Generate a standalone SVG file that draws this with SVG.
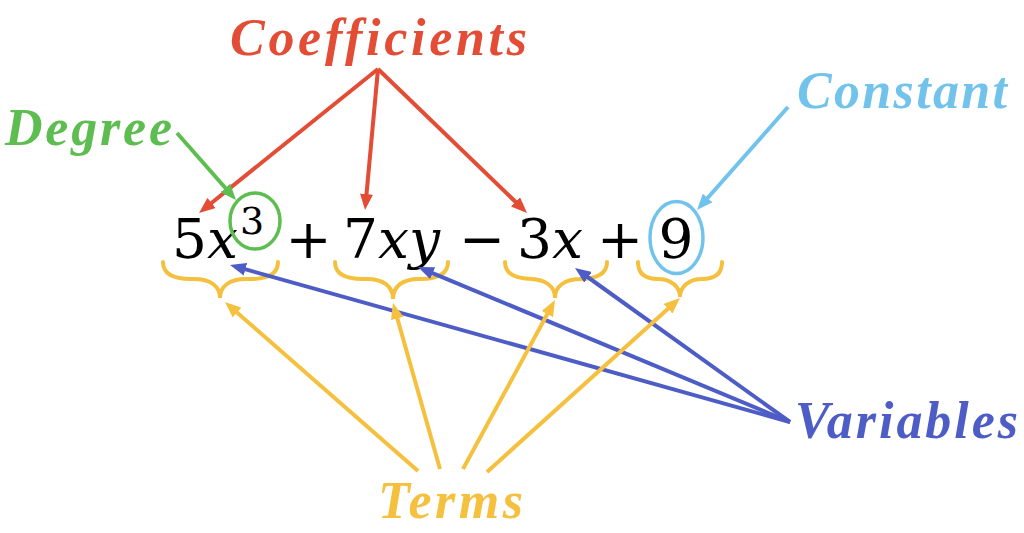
<svg xmlns="http://www.w3.org/2000/svg" width="1024" height="533" viewBox="0 0 1024 533">
<style>
.lbl{font-family:"Liberation Serif",serif;font-style:italic;font-weight:bold;font-size:52px}
.ex{font-family:"DejaVu Serif",serif;font-size:55px;fill:#000}
.mid{text-anchor:middle}
.it{font-style:italic}
.ln{fill:none;stroke-width:4}
.brace{fill:none;stroke:#f4c03e;stroke-width:4;stroke-linecap:round}
</style>
<defs>
<marker id="aR" markerUnits="userSpaceOnUse" markerWidth="16" markerHeight="13" refX="10" refY="6.5" orient="auto"><path d="M0,0 L16,6.5 L0,13 z" fill="#e34c35"/></marker>
<marker id="aG" markerUnits="userSpaceOnUse" markerWidth="16" markerHeight="13" refX="10" refY="6.5" orient="auto"><path d="M0,0 L16,6.5 L0,13 z" fill="#5dbd50"/></marker>
<marker id="aC" markerUnits="userSpaceOnUse" markerWidth="16" markerHeight="13" refX="10" refY="6.5" orient="auto"><path d="M0,0 L16,6.5 L0,13 z" fill="#72c3ec"/></marker>
<marker id="aB" markerUnits="userSpaceOnUse" markerWidth="16" markerHeight="13" refX="10" refY="6.5" orient="auto"><path d="M0,0 L16,6.5 L0,13 z" fill="#4e5dc5"/></marker>
<marker id="aY" markerUnits="userSpaceOnUse" markerWidth="16" markerHeight="13" refX="10" refY="6.5" orient="auto"><path d="M0,0 L16,6.5 L0,13 z" fill="#f4c03e"/></marker>
</defs>
<rect width="1024" height="533" fill="#fff"/>

<g id="expression">
<text class="ex" x="172" y="258">5<tspan class="it">x</tspan></text>
<text class="ex mid" x="252" y="234" style="font-size:38px">3</text>
<text class="ex mid" x="308.5" y="258">+</text>
<text class="ex" x="343" y="258">7<tspan class="it">xy</tspan></text>
<text class="ex mid" x="482" y="258">−</text>
<text class="ex" x="517" y="258">3<tspan class="it">x</tspan></text>
<text class="ex mid" x="620" y="258">+</text>
<text class="ex mid" x="676" y="258">9</text>
</g>

<g id="degree-circle"><ellipse cx="255" cy="221" rx="25" ry="28" fill="none" stroke="#5dbd50" stroke-width="3.5"/></g>
<g id="constant-circle"><ellipse cx="676.5" cy="237.5" rx="26.5" ry="36" fill="none" stroke="#72c3ec" stroke-width="3.5"/></g>

<g id="braces">
<path class="brace" d="M163,262 C163,274 173,279 191,279 L194,279 C210,279 220,286 220,298 C220,286 230,279 246,279 L250,279 C268,279 278,274 278,262"/>
<path class="brace" d="M335,262 C335,274 345,279 363,279 L367,279 C383,279 393,286 393,299 C393,286 403,279 419,279 L420,279 C438,279 448,274 448,262"/>
<path class="brace" d="M505,262 C505,274 515,279 533,279 L529,279 C545,279 555,286 555,298 C555,286 565,279 581,279 L579,279 C597,279 607,274 607,262"/>
<path class="brace" d="M638,262 C638,274 646,279 658,279 C670,279 680,286 680,297 C680,286 690,279 702,279 C714,279 722,274 722,262"/>
</g>

<g id="connectors">
<line class="ln" stroke="#e34c35" x1="378" y1="69" x2="203.7" y2="209.2" marker-end="url(#aR)"/>
<line class="ln" stroke="#e34c35" x1="378" y1="69" x2="365.6" y2="204" marker-end="url(#aR)"/>
<line class="ln" stroke="#e34c35" x1="378" y1="69" x2="522.7" y2="208.8" marker-end="url(#aR)"/>
<line class="ln" stroke="#5dbd50" x1="177" y1="133" x2="232" y2="195.5" marker-end="url(#aG)"/>
<line class="ln" stroke="#72c3ec" x1="788" y1="107" x2="701" y2="205.5" marker-end="url(#aC)"/>
<line class="ln" stroke="#4e5dc5" x1="790" y1="422" x2="235.8" y2="266.6" marker-end="url(#aB)"/>
<line class="ln" stroke="#4e5dc5" x1="790" y1="422" x2="423.5" y2="269.3" marker-end="url(#aB)"/>
<line class="ln" stroke="#4e5dc5" x1="790" y1="422" x2="579.9" y2="271.5" marker-end="url(#aB)"/>
<line class="ln" stroke="#f4c03e" x1="418" y1="471" x2="229.5" y2="306" marker-end="url(#aY)"/>
<line class="ln" stroke="#f4c03e" x1="440" y1="469" x2="394.6" y2="308.8" marker-end="url(#aY)"/>
<line class="ln" stroke="#f4c03e" x1="463" y1="469" x2="552.1" y2="305.3" marker-end="url(#aY)"/>
<line class="ln" stroke="#f4c03e" x1="487" y1="472" x2="675.5" y2="302" marker-end="url(#aY)"/>
</g>

<g id="coefficients"><text class="lbl" x="230" y="55" fill="#e34c35" textLength="297" lengthAdjust="spacing">Coefficients</text></g>
<g id="degree"><text class="lbl" x="5" y="145" fill="#5dbd50" textLength="167" lengthAdjust="spacing">Degree</text></g>
<g id="constant"><text class="lbl" x="797" y="108" fill="#72c3ec" textLength="210" lengthAdjust="spacing">Constant</text></g>
<g id="variables"><text class="lbl" x="795" y="438" fill="#4e5dc5" textLength="223" lengthAdjust="spacing">Variables</text></g>
<g id="terms"><text class="lbl" x="378" y="518" fill="#f4c03e" textLength="145" lengthAdjust="spacing">Terms</text></g>
</svg>
